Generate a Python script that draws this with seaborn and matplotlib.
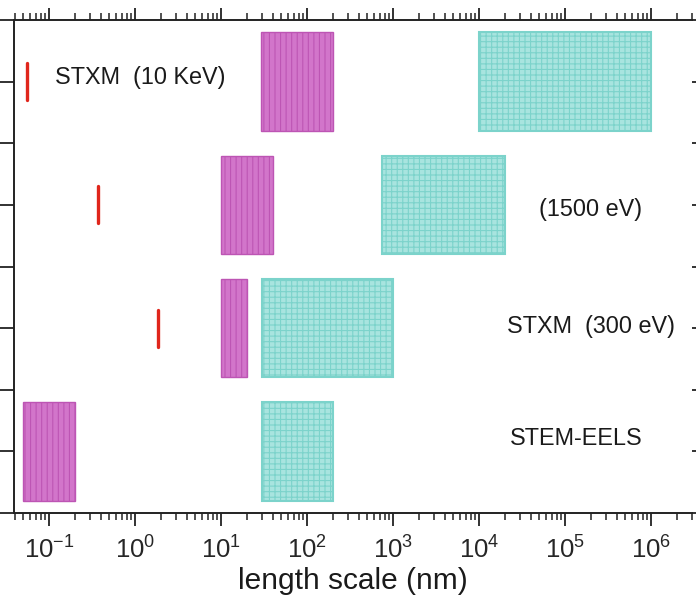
import matplotlib
matplotlib.use("Agg")
import matplotlib.pyplot as plt
from matplotlib.ticker import LogLocator, LogFormatterSciNotation, NullFormatter, MultipleLocator
import numpy as np
import seaborn as sns

# Data (length scales in nm)

row_names = ["STEM-EELS", "STXM (300 eV)", "STXM (1500 eV)", "STXM (10 KeV)"]
row_y = [1, 3, 5, 7]

pink_lo = [0.05, 10, 10, 29]
pink_hi = [0.2, 20, 40, 200]

cyan_lo = [30, 30, 750, 1e4]
cyan_hi = [200, 1000, 2e4, 1e6]

resolution = [np.nan, 1.85, 0.37, 0.056]

label_text = ["STEM-EELS", "STXM  (300 eV)", "(1500 eV)", "STXM  (10 KeV)"]
label_x = [2.3e4, 2.15e4, 5.0e4, 0.117]
label_dy = [0.21, 0.03, -0.08, 0.06]

decades = 10.0 ** np.arange(-1, 7)

BOX_H = 1.6
RES_H = 0.6

PINK = "#d275ca"
PINK_LINE = "#bd55b4"
CYAN = "#a8e4df"
CYAN_LINE = "#7cd3cb"
RED = "#e0261c"

# Style

sns.set_style("ticks")
plt.rcParams["font.family"] = ["Liberation Sans", "DejaVu Sans"]
plt.rcParams["hatch.linewidth"] = 0.8
plt.rcParams["axes.unicode_minus"] = False

fig = plt.figure(figsize=(6.96, 6.0), dpi=100)
ax = fig.add_axes([14 / 696, 87 / 600, 678 / 696, 493 / 600])
ax.set_xscale("log")

# Boxes

for lo, hi, y in zip(pink_lo, pink_hi, row_y):
    ax.barh(y, hi - lo, left=lo, height=BOX_H, color=PINK,
            edgecolor=PINK_LINE, linewidth=1.0, hatch="|||", zorder=2)

for lo, hi, y in zip(cyan_lo, cyan_hi, row_y):
    ax.barh(y, hi - lo, left=lo, height=BOX_H, color=CYAN,
            edgecolor=CYAN_LINE, linewidth=1.5, hatch="+++", zorder=2)

# Resolution marks

res = np.array(resolution)
ry = np.array(row_y, dtype=float)
ok = ~np.isnan(res)
ax.vlines(res[ok], ry[ok] - RES_H / 2, ry[ok] + RES_H / 2,
          color=RED, linewidth=2.4, capstyle="round", zorder=3)

# Labels

for txt, x, y, dy in zip(label_text, label_x, row_y, label_dy):
    ax.text(x, y + dy, txt, fontsize=16.8, color="#1a1a1a",
            ha="left", va="center", zorder=4)

# Axes

ax.set_xlim(10 ** -1.406, 10 ** 6.478)
ax.set_ylim(0, 8)

ax.set_xticks(decades)
ax.xaxis.set_major_formatter(LogFormatterSciNotation())
ax.xaxis.set_minor_locator(LogLocator(base=10, subs=np.arange(2, 10), numticks=20))
ax.xaxis.set_minor_formatter(NullFormatter())
ax.yaxis.set_major_locator(MultipleLocator(1))
ax.set_yticklabels([])

ax.tick_params(axis="x", which="both", direction="out", top=True, bottom=True,
               labeltop=False, labelsize=18.5, color="#222222", pad=8)
ax.tick_params(axis="x", which="major", length=9, width=1.3)
ax.tick_params(axis="x", which="minor", length=5, width=1.1)
ax.tick_params(axis="y", which="major", direction="out", left=True, right=True,
               length=10, width=1.3, color="#222222")

sns.despine(ax=ax, top=False, right=True)
for side in ["left", "bottom", "top"]:
    ax.spines[side].set_linewidth(1.4)
    ax.spines[side].set_color("#222222")

ax.set_xlabel("length scale (nm)", fontsize=21.5, labelpad=2, color="#1a1a1a")

fig.savefig("out.png", dpi=100)
